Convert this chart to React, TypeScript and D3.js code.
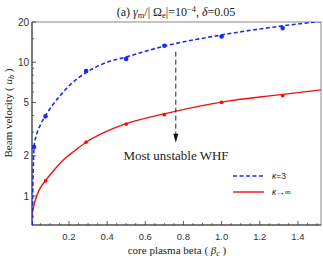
import React from "react";
import * as d3 from "d3";

const W = 323;
const H = 259;

// κ=3 fitted curve samples and computed points
const kappa3CurveBeta = [0.0075, 0.011, 0.017, 0.03, 0.052, 0.077, 0.11, 0.15, 0.21, 0.29, 0.39, 0.5, 0.7, 1.0, 1.3, 1.521];
const kappa3CurveU = [0.607, 1.21, 2.33, 2.87, 3.44, 3.99, 4.7, 5.54, 6.87, 8.38, 9.88, 10.96, 13.2, 16.0, 18.56, 20.2];
const kappa3PointsBeta = [0.017, 0.077, 0.29, 0.5, 0.7, 1.0, 1.32];
const kappa3PointsU = [2.32, 3.94, 8.6, 10.6, 13.3, 15.6, 18.0];

// κ→∞ fitted curve samples and computed points
const kinfCurveBeta = [0.0063, 0.0115, 0.0194, 0.03, 0.043, 0.0587, 0.078, 0.12, 0.18, 0.23, 0.29, 0.4, 0.5, 0.7, 1.0, 1.3, 1.521];
const kinfCurveU = [0.722, 0.793, 0.888, 0.993, 1.102, 1.205, 1.309, 1.551, 1.914, 2.18, 2.524, 3.053, 3.474, 4.116, 5.037, 5.704, 6.216];
const kinfPointsBeta = [0.078, 0.29, 0.5, 0.7, 1.0, 1.32];
const kinfPointsU = [1.3, 2.53, 3.45, 4.06, 5.02, 5.64];

const xTicks = [0.2, 0.4, 0.6, 0.8, 1.0, 1.2, 1.4];
const xMinorTicks = [0.05, 0.1, 0.15, 0.25, 0.3, 0.35, 0.45, 0.5, 0.55, 0.65, 0.7, 0.75, 0.85, 0.9, 0.95, 1.05, 1.1, 1.15, 1.25, 1.3, 1.35, 1.45, 1.5];
const yTicks = [1, 2, 5, 10, 20];
const yMinorTicks = [0.7, 0.8, 0.9, 3, 4, 6, 7, 8, 9, 15];

const arrowBeta = 0.76;
const arrowTopU = 12.0;
const arrowBottomU = 2.5;

export default function App() {
  const left = 32, right = 321, top = 22, bottom = 225;
  const x = d3.scaleLinear().domain([0.0063, 1.521]).range([left, right]);
  const y = d3.scaleLog().domain([0.607, 20]).range([bottom, top]);

  const line = d3
    .line<[number, number]>()
    .x((d) => x(d[0]))
    .y((d) => y(d[1]))
    .curve(d3.curveMonotoneX);

  const k3 = kappa3CurveBeta.map((b, i) => [b, kappa3CurveU[i]] as [number, number]);
  const kinf = kinfCurveBeta.map((b, i) => [b, kinfCurveU[i]] as [number, number]);

  const serif = "'Liberation Serif', 'DejaVu Serif', serif";
  const sans = "'Liberation Sans', Arial, sans-serif";
  const blue = "#1a2cf0";
  const red = "#f01010";
  const ax = x(arrowBeta);
  const tipY = y(arrowBottomU);

  return (
    <svg width={W} height={H} style={{ position: "absolute", left: 0, top: 0, background: "#fff" }}>
      <defs>
        <clipPath id="plotclip">
          <rect x={left} y={top} width={right - left} height={bottom - top} />
        </clipPath>
      </defs>
      {/* title */}
      <text x={176} y={16} textAnchor="middle" fontFamily={serif} fontSize={12} fill="#222">
        <tspan>(a) </tspan>
        <tspan fontStyle="italic">γ</tspan>
        <tspan fontSize={8.5} dy={2}>m</tspan>
        <tspan dy={-2}>/| Ω</tspan>
        <tspan fontSize={8.5} dy={2}>e</tspan>
        <tspan dy={-2}>|=10</tspan>
        <tspan fontSize={8.5} dy={-4}>−4</tspan>
        <tspan dy={4}>, </tspan>
        <tspan fontStyle="italic">δ</tspan>
        <tspan>=0.05</tspan>
      </text>

      {/* frame */}
      <rect x={left} y={top} width={right - left} height={bottom - top} fill="none" stroke="#888" strokeWidth={1} />
      <line x1={left} x2={left} y1={top} y2={bottom} stroke="#333" strokeWidth={1} />
      <line x1={left} x2={right} y1={bottom} y2={bottom} stroke="#333" strokeWidth={1} />

      {/* x ticks */}
      {xTicks.map((t) => (
        <g key={"xt" + t}>
          <line x1={x(t)} x2={x(t)} y1={bottom} y2={bottom - 4} stroke="#333" strokeWidth={0.8} />
          <text x={x(t)} y={240} textAnchor="middle" fontFamily={sans} fontSize={9.5} fill="#333">
            {t.toFixed(1)}
          </text>
        </g>
      ))}
      {xMinorTicks.map((t) => (
        <line key={"xm" + t} x1={x(t)} x2={x(t)} y1={bottom} y2={bottom - 2} stroke="#333" strokeWidth={0.7} />
      ))}

      {/* y ticks */}
      {yTicks.map((t) => (
        <g key={"yt" + t}>
          <line x1={left} x2={left + 4} y1={y(t)} y2={y(t)} stroke="#333" strokeWidth={0.8} />
          <text x={29} y={y(t) + 3.5} textAnchor="end" fontFamily={sans} fontSize={10} fill="#333">
            {t}
          </text>
        </g>
      ))}
      {yMinorTicks.map((t) => (
        <line key={"ym" + t} x1={left} x2={left + 2} y1={y(t)} y2={y(t)} stroke="#333" strokeWidth={0.7} />
      ))}

      {/* axis labels */}
      <text x={177} y={254} textAnchor="middle" fontFamily={serif} fontSize={11} fill="#222">
        <tspan>core plasma beta ( </tspan>
        <tspan fontStyle="italic">β</tspan>
        <tspan fontSize={8} dy={2} fontStyle="italic">c</tspan>
        <tspan dy={-2}> )</tspan>
      </text>
      <text
        transform={`translate(12,${113}) rotate(-90)`}
        textAnchor="middle"
        fontFamily={serif}
        fontSize={11}
        fill="#222"
      >
        <tspan>Beam velocity ( </tspan>
        <tspan fontStyle="italic">u</tspan>
        <tspan fontSize={8} dy={2} fontStyle="italic">b</tspan>
        <tspan dy={-2}> )</tspan>
      </text>

      {/* curves */}
      <g clipPath="url(#plotclip)">
        <path d={line(kinf) || ""} fill="none" stroke={red} strokeWidth={1.4} />
        <path d={line(k3) || ""} fill="none" stroke={blue} strokeWidth={1.6} strokeDasharray="4,2.5" />
        {kinfPointsBeta.map((b, i) => (
          <circle key={"rp" + i} cx={x(b)} cy={y(kinfPointsU[i])} r={1.9} fill={red} />
        ))}
        {kappa3PointsBeta.map((b, i) => (
          <circle key={"bp" + i} cx={x(b)} cy={y(kappa3PointsU[i])} r={2.3} fill={blue} />
        ))}
      </g>

      {/* annotation arrow */}
      <line x1={ax} x2={ax} y1={y(arrowTopU)} y2={tipY - 6} stroke="#222" strokeWidth={1} strokeDasharray="5,3" />
      <path d={`M${ax - 2.5},${tipY - 9} L${ax + 2.5},${tipY - 9} L${ax},${tipY} Z`} fill="#111" />
      <text x={176} y={160} textAnchor="middle" fontFamily={serif} fontSize={13} fill="#222">
        Most unstable WHF
      </text>

      {/* legend */}
      <line x1={233} x2={264} y1={176} y2={176} stroke={blue} strokeWidth={1.6} strokeDasharray="4,2.5" />
      <text x={272} y={179} fontFamily={sans} fontSize={8.5} fill="#222">
        <tspan fontStyle="italic">κ</tspan>
        <tspan>=3</tspan>
      </text>
      <line x1={233} x2={264} y1={192} y2={192} stroke={red} strokeWidth={1.4} />
      <text x={272} y={195} fontFamily={sans} fontSize={8.5} fill="#222">
        <tspan fontStyle="italic">κ</tspan>
        <tspan>→∞</tspan>
      </text>
    </svg>
  );
}
